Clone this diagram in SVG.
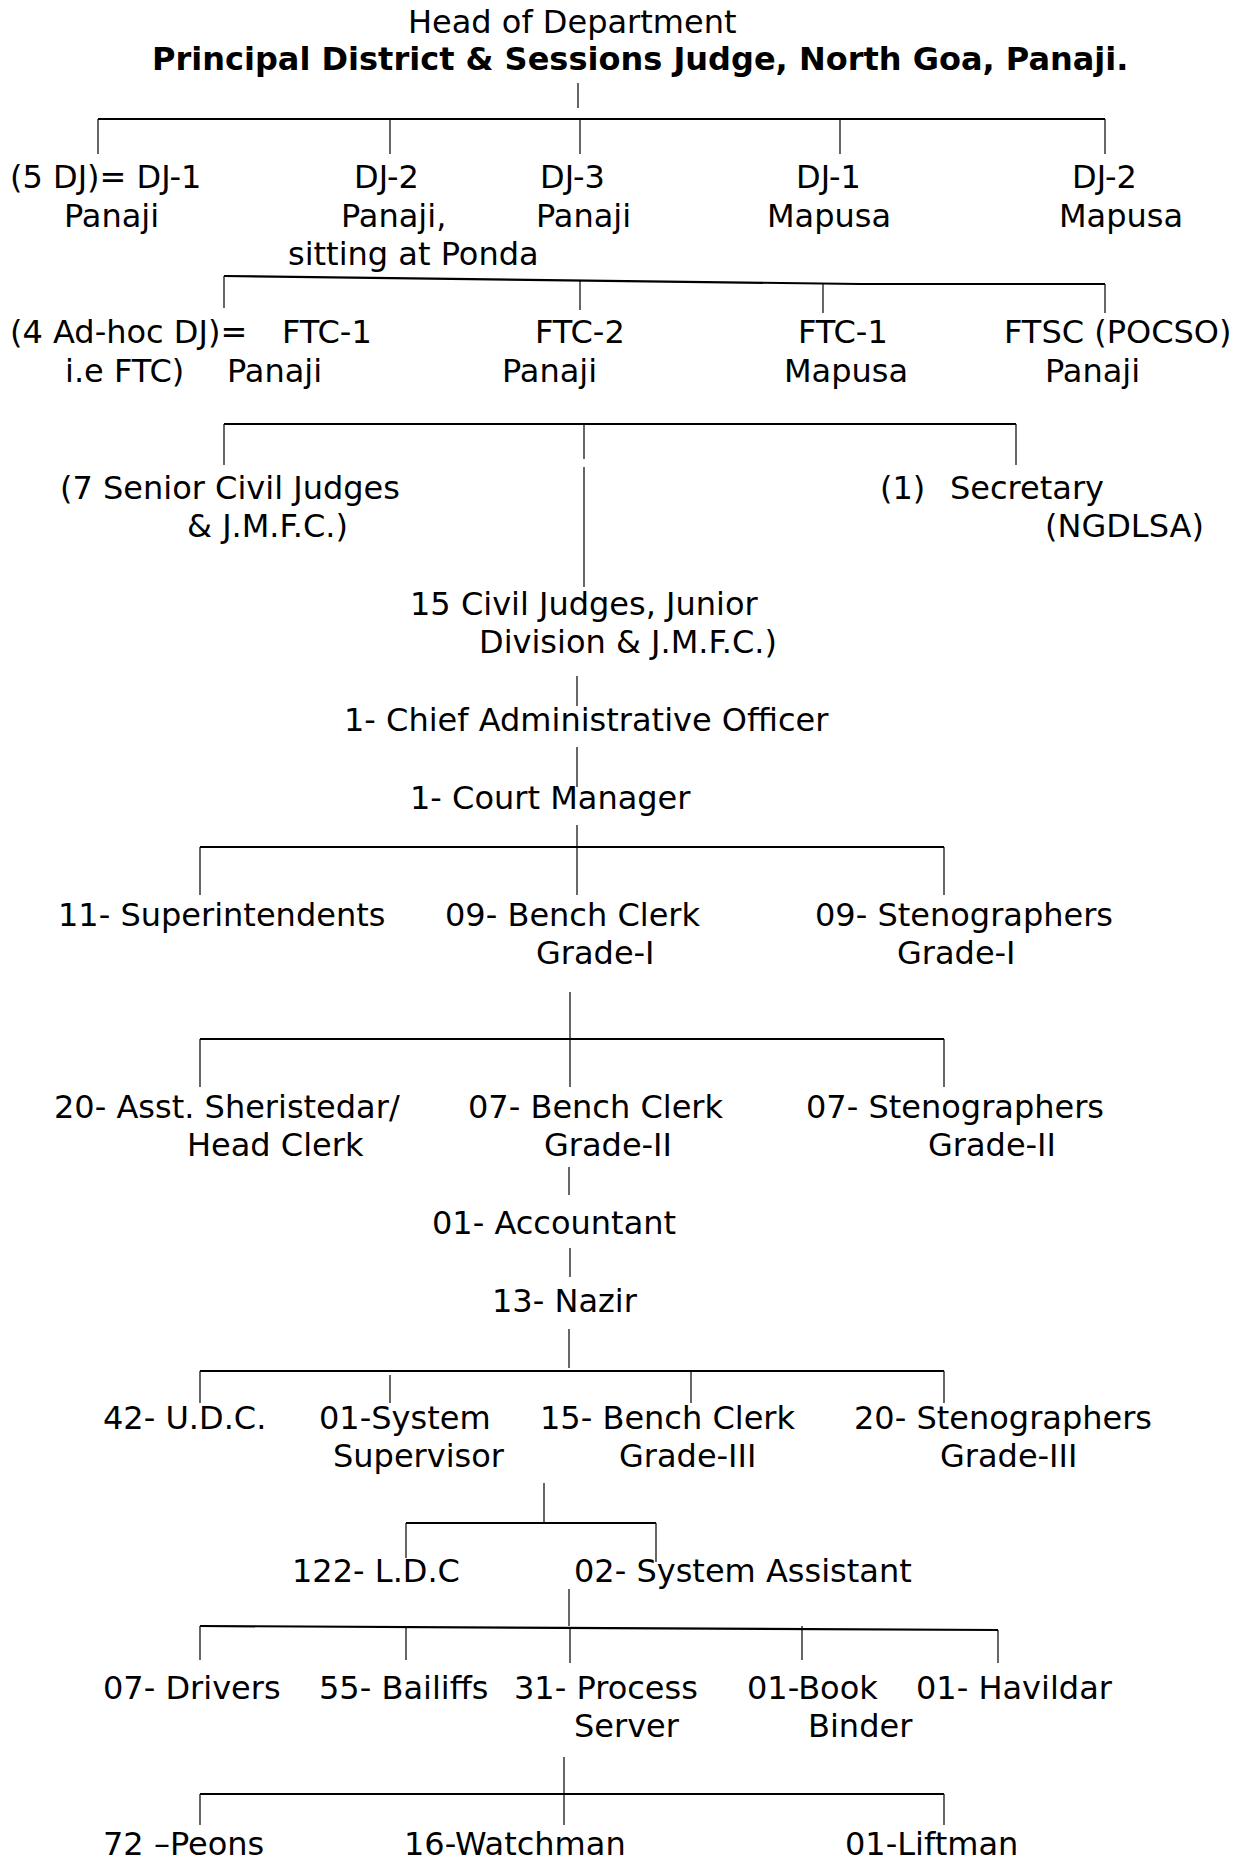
<svg xmlns="http://www.w3.org/2000/svg" width="1260" height="1860" viewBox="0 0 1260 1860">
<style>
text{font-family:"DejaVu Sans",Verdana,"Liberation Sans",sans-serif;font-size:32px;fill:#000}
.b{font-weight:bold}
.v{stroke:#000;stroke-width:1.2;fill:none}
.h{stroke:#000;stroke-width:2.2;fill:none}
</style>
<rect width="1260" height="1860" fill="#fff"/>
<g id="connectors">
<line class="v" x1="578" y1="83" x2="578" y2="108"/>
<line class="h" x1="98" y1="119" x2="1105" y2="119"/>
<line class="v" x1="98" y1="119" x2="98" y2="154"/>
<line class="v" x1="390" y1="119" x2="390" y2="154"/>
<line class="v" x1="580" y1="119" x2="580" y2="154"/>
<line class="v" x1="840" y1="119" x2="840" y2="154"/>
<line class="v" x1="1105" y1="119" x2="1105" y2="154"/>
<polyline class="h" points="224,276 860,284 1105,284"/>
<line class="v" x1="224" y1="276" x2="224" y2="308"/>
<line class="v" x1="580" y1="281" x2="580" y2="310"/>
<line class="v" x1="823" y1="284" x2="823" y2="313"/>
<line class="v" x1="1105" y1="284" x2="1105" y2="313"/>
<line class="h" x1="224" y1="424" x2="1016" y2="424"/>
<line class="v" x1="224" y1="424" x2="224" y2="465"/>
<line class="v" x1="584" y1="424" x2="584" y2="459"/>
<line class="v" x1="584" y1="467" x2="584" y2="587"/>
<line class="v" x1="1016" y1="424" x2="1016" y2="465"/>
<line class="v" x1="577" y1="676" x2="577" y2="706"/>
<line class="v" x1="577" y1="747" x2="577" y2="787"/>
<line class="v" x1="577" y1="825" x2="577" y2="895"/>
<line class="h" x1="200" y1="847" x2="944" y2="847"/>
<line class="v" x1="200" y1="847" x2="200" y2="895"/>
<line class="v" x1="944" y1="847" x2="944" y2="895"/>
<line class="v" x1="570" y1="992" x2="570" y2="1087"/>
<line class="h" x1="200" y1="1039" x2="944" y2="1039"/>
<line class="v" x1="200" y1="1039" x2="200" y2="1087"/>
<line class="v" x1="944" y1="1039" x2="944" y2="1087"/>
<line class="v" x1="569" y1="1167" x2="569" y2="1195"/>
<line class="v" x1="570" y1="1248" x2="570" y2="1277"/>
<line class="v" x1="569" y1="1329" x2="569" y2="1368"/>
<line class="h" x1="200" y1="1371" x2="944" y2="1371"/>
<line class="v" x1="200" y1="1371" x2="200" y2="1403"/>
<line class="v" x1="390" y1="1375" x2="390" y2="1403"/>
<line class="v" x1="691" y1="1371" x2="691" y2="1403"/>
<line class="v" x1="944" y1="1371" x2="944" y2="1403"/>
<line class="v" x1="544" y1="1483" x2="544" y2="1522"/>
<line class="h" x1="406" y1="1523" x2="656" y2="1523"/>
<line class="v" x1="406" y1="1523" x2="406" y2="1558"/>
<line class="v" x1="656" y1="1523" x2="656" y2="1562"/>
<line class="v" x1="569" y1="1589" x2="569" y2="1626"/>
<line class="h" x1="200" y1="1626" x2="998" y2="1630"/>
<line class="v" x1="200" y1="1626" x2="200" y2="1660"/>
<line class="v" x1="406" y1="1627" x2="406" y2="1660"/>
<line class="v" x1="570" y1="1628" x2="570" y2="1663"/>
<line class="v" x1="802" y1="1626" x2="802" y2="1660"/>
<line class="v" x1="998" y1="1630" x2="998" y2="1663"/>
<line class="v" x1="564" y1="1757" x2="564" y2="1825"/>
<line class="h" x1="200" y1="1794" x2="944" y2="1794"/>
<line class="v" x1="200" y1="1794" x2="200" y2="1825"/>
<line class="v" x1="944" y1="1794" x2="944" y2="1825"/>
</g>
<g id="head"><text x="408" y="33">Head of Department</text><text class="b" x="152" y="70">Principal District &amp; Sessions Judge, North Goa, Panaji.</text></g>
<g id="dj1-panaji"><text x="10" y="188">(5 DJ)= DJ-1</text><text x="64" y="227">Panaji</text></g>
<g id="dj2-panaji"><text x="354" y="188">DJ-2</text><text x="341" y="227">Panaji,</text><text x="288" y="265">sitting at Ponda</text></g>
<g id="dj3-panaji"><text x="540" y="188">DJ-3</text><text x="536" y="227">Panaji</text></g>
<g id="dj1-mapusa"><text x="796" y="188">DJ-1</text><text x="767" y="227">Mapusa</text></g>
<g id="dj2-mapusa"><text x="1072" y="188">DJ-2</text><text x="1059" y="227">Mapusa</text></g>
<g id="ftc1-panaji"><text x="10" y="343">(4 Ad-hoc DJ)= <tspan x="282">FTC-1</tspan></text><text x="65" y="382">i.e FTC)</text><text x="227" y="382">Panaji</text></g>
<g id="ftc2-panaji"><text x="535" y="343">FTC-2</text><text x="502" y="382">Panaji</text></g>
<g id="ftc1-mapusa"><text x="798" y="343">FTC-1</text><text x="784" y="382">Mapusa</text></g>
<g id="ftsc-panaji"><text x="1004" y="343">FTSC (POCSO)</text><text x="1045" y="382">Panaji</text></g>
<g id="senior-civil"><text x="60" y="499">(7 Senior Civil Judges</text><text x="187" y="537">&amp; J.M.F.C.)</text></g>
<g id="secretary"><text x="880" y="499">(1) <tspan x="950">Secretary</tspan></text><text x="1045" y="537">(NGDLSA)</text></g>
<g id="civil-junior"><text x="410" y="615">15 Civil Judges, Junior</text><text x="479" y="653">Division &amp; J.M.F.C.)</text></g>
<g id="cao"><text x="344" y="731">1- Chief Administrative Officer</text></g>
<g id="court-manager"><text x="410" y="809">1- Court Manager</text></g>
<g id="superintendents"><text x="58" y="926">11- Superintendents</text></g>
<g id="bench-clerk-1"><text x="445" y="926">09- Bench Clerk</text><text x="536" y="964">Grade-I</text></g>
<g id="steno-1"><text x="815" y="926">09- Stenographers</text><text x="897" y="964">Grade-I</text></g>
<g id="sheristedar"><text x="54" y="1118">20- Asst. Sheristedar/</text><text x="187" y="1156">Head Clerk</text></g>
<g id="bench-clerk-2"><text x="468" y="1118">07- Bench Clerk</text><text x="544" y="1156">Grade-II</text></g>
<g id="steno-2"><text x="806" y="1118">07- Stenographers</text><text x="928" y="1156">Grade-II</text></g>
<g id="accountant"><text x="432" y="1234">01- Accountant</text></g>
<g id="nazir"><text x="492" y="1312">13- Nazir</text></g>
<g id="udc"><text x="103" y="1429">42- U.D.C.</text></g>
<g id="sys-supervisor"><text x="319" y="1429">01-System</text><text x="333" y="1467">Supervisor</text></g>
<g id="bench-clerk-3"><text x="540" y="1429">15- Bench Clerk</text><text x="619" y="1467">Grade-III</text></g>
<g id="steno-3"><text x="854" y="1429">20- Stenographers</text><text x="940" y="1467">Grade-III</text></g>
<g id="ldc"><text x="292" y="1582">122- L.D.C</text></g>
<g id="sys-assistant"><text x="574" y="1582">02- System Assistant</text></g>
<g id="drivers"><text x="103" y="1699">07- Drivers</text></g>
<g id="bailiffs"><text x="319" y="1699">55- Bailiffs</text></g>
<g id="process-server"><text x="514" y="1699">31- Process</text><text x="574" y="1737">Server</text></g>
<g id="book-binder"><text x="747" y="1699">01-Book</text><text x="808" y="1737">Binder</text></g>
<g id="havildar"><text x="916" y="1699">01- Havildar</text></g>
<g id="peons"><text x="103" y="1855">72 –Peons</text></g>
<g id="watchman"><text x="404" y="1855">16-Watchman</text></g>
<g id="liftman"><text x="845" y="1855">01-Liftman</text></g>
</svg>
